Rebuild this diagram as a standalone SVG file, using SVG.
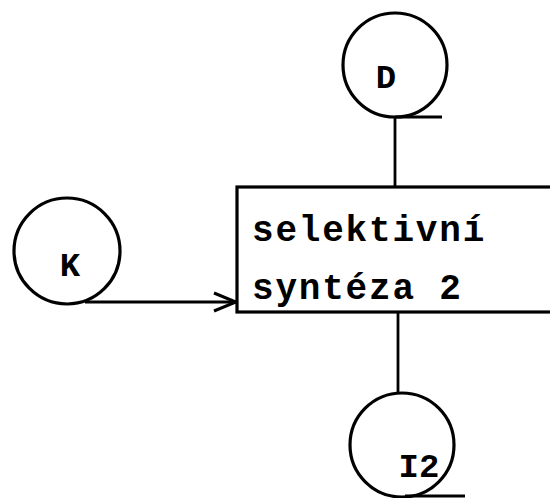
<svg xmlns="http://www.w3.org/2000/svg" width="550" height="498" viewBox="0 0 550 498">
  <style>
    .node { fill: #ffffff; stroke: #000000; stroke-width: 3.2; }
    .edge { fill: none; stroke: #000000; stroke-width: 2.8; }
    .label { font-family: "Liberation Mono", "Courier New", monospace; font-weight: bold; fill: #000000; }
    .box-text { font-size: 36px; letter-spacing: 1.8px; }
    .sym { font-size: 34px; text-anchor: middle; }
  </style>
  <defs>
    <marker id="arrow" markerWidth="26" markerHeight="24" refX="24" refY="12" orient="auto" markerUnits="userSpaceOnUse">
      <path d="M2,3 L24,12 L2,21" fill="none" stroke="#000000" stroke-width="3"/>
    </marker>
  </defs>
  <rect width="550" height="498" fill="#ffffff"/>

  <g id="connectors">
    <!-- D down to the process box -->
    <line class="edge" x1="395" y1="117" x2="395" y2="187"/>
    <!-- K into the process box -->
    <line class="edge" x1="85" y1="302" x2="236" y2="302" marker-end="url(#arrow)"/>
    <!-- process box down to I2 -->
    <line class="edge" x1="398" y1="312" x2="398" y2="393"/>
  </g>

  <g id="node-D">
    <circle class="node" cx="395" cy="65" r="52"/>
    <line class="edge" x1="395" y1="117" x2="442" y2="117"/>
    <text class="label sym" x="386" y="88">D</text>
  </g>

  <g id="node-K">
    <circle class="node" cx="67" cy="251" r="53"/>
    <text class="label sym" x="70" y="276">K</text>
  </g>

  <g id="node-process">
    <rect class="node" x="237" y="187" width="330" height="125"/>
    <text class="label box-text" x="252" y="241">selektivní</text>
    <text class="label box-text" x="252" y="299">syntéza 2</text>
  </g>

  <g id="node-I2">
    <circle class="node" cx="402" cy="445" r="52"/>
    <line class="edge" x1="405" y1="496" x2="465" y2="496"/>
    <text class="label sym" x="419" y="477">I2</text>
  </g>
</svg>
